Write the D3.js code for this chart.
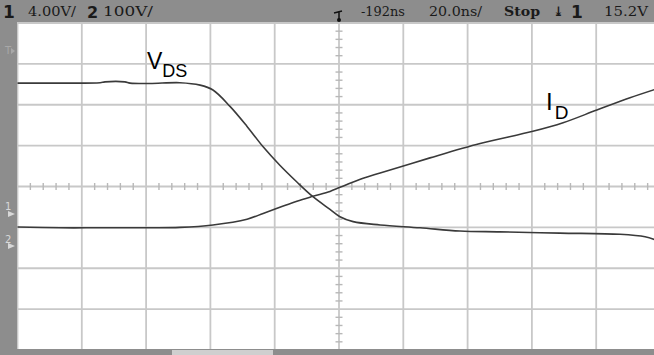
<!DOCTYPE html>
<html>
<head>
<meta charset="utf-8">
<script src="https://cdn.jsdelivr.net/npm/d3@7"></script>
<style>
  body { margin: 0; background: #fff; }
  svg { display: block; }
  .hdr { font-family: "DejaVu Serif", serif; fill: #1a1a1a; }
  .lbl { font-family: "Liberation Sans", Arial, sans-serif; fill: #000; }
</style>
</head>
<body>
<svg width="654" height="355"></svg>
<script>
// time in ns (20 ns/div), value in screen divisions
const vdsTime = [-100, -86.8, -74.3, -72.8, -66.6, -65, -58.8, -49.5, -43.2, -39.2, -33.9, -28.6, -23.6, -18.4, -13.1, -8.1, -2.8, 0.3, 4.4, 12.8, 25.2, 37.6, 50.1, 68.7, 87.4, 95.2, 98.5];
const vdsValue = [2.53, 2.53, 2.54, 2.56, 2.56, 2.53, 2.52, 2.54, 2.48, 2.36, 1.96, 1.47, 0.97, 0.52, 0.11, -0.25, -0.56, -0.74, -0.86, -0.94, -1.01, -1.09, -1.11, -1.14, -1.17, -1.23, -1.31];

const idTime = [-100, -86.8, -74.3, -58.8, -49.5, -39.2, -28.6, -23.6, -18.4, -13.1, -8.1, -2.8, 0.3, 7.5, 12.8, 28.3, 43.9, 60.3, 69.7, 80.2, 90.5, 98.5];
const idValue = [-0.99, -1.01, -1.01, -1.01, -1.0, -0.94, -0.8, -0.66, -0.51, -0.36, -0.24, -0.12, -0.02, 0.2, 0.33, 0.7, 1.05, 1.35, 1.56, 1.87, 2.17, 2.38];

const xDivs = d3.range(-5, 6);
const yDivs = d3.range(-4, 5);

const svg = d3.select("svg");
const width = 654, height = 355;

const x = d3.scaleLinear().domain([-100, 100]).range([17.5, 660.5]);
const y = d3.scaleLinear().domain([-4, 4]).range([350, 23]);

svg.append("rect").attr("width", width).attr("height", height).attr("fill", "#fff");

const grid = svg.append("g");
grid.selectAll(".vl").data(xDivs).enter().append("line")
  .attr("x1", (d) => x(d * 20)).attr("x2", (d) => x(d * 20))
  .attr("y1", 22).attr("y2", 350)
  .attr("stroke", "#c8c8c8").attr("stroke-width", 1.8);
grid.selectAll(".hl").data(yDivs).enter().append("line")
  .attr("x1", 17).attr("x2", width)
  .attr("y1", (d) => y(d)).attr("y2", (d) => y(d))
  .attr("stroke", "#c8c8c8").attr("stroke-width", 1.8);

// minor ticks on centre lines (5 per division)
const minorX = d3.range(-25, 26).filter((d) => d % 5 !== 0).map((d) => d / 5);
const minorY = d3.range(-20, 21).filter((d) => d % 5 !== 0).map((d) => d / 5);
grid.selectAll(".tx").data(minorX).enter().append("line")
  .attr("x1", (d) => x(d * 20)).attr("x2", (d) => x(d * 20))
  .attr("y1", y(0) - 3.5).attr("y2", y(0) + 3.5)
  .attr("stroke", "#b8b8b8").attr("stroke-width", 1.4);
grid.selectAll(".ty").data(minorY).enter().append("line")
  .attr("x1", x(0) - 3.5).attr("x2", x(0) + 3.5)
  .attr("y1", (d) => y(d)).attr("y2", (d) => y(d))
  .attr("stroke", "#b8b8b8").attr("stroke-width", 1.4);

// traces
const line = d3.line().x((d) => x(d[0])).y((d) => y(d[1])).curve(d3.curveCatmullRom.alpha(0.5));
const traces = [
  d3.zip(vdsTime, vdsValue),
  d3.zip(idTime, idValue),
];
svg.selectAll(".trace").data(traces).enter().append("path")
  .attr("d", line)
  .attr("fill", "none")
  .attr("stroke", "#3a3a3a")
  .attr("stroke-width", 1.6);

// labels
const vds = svg.append("text").attr("class", "lbl").attr("x", 147).attr("y", 69);
vds.append("tspan").attr("font-size", 23).text("V");
vds.append("tspan").attr("font-size", 18).attr("dy", 8).text("DS");
const idl = svg.append("text").attr("class", "lbl").attr("x", 546).attr("y", 110);
idl.append("tspan").attr("font-size", 24).text("I");
idl.append("tspan").attr("font-size", 19).attr("dy", 9).attr("dx", 2).text("D");

// bezels
const bezel = "#8d8d8d";
svg.append("rect").attr("x", 0).attr("y", 0).attr("width", width).attr("height", 22).attr("fill", bezel);
svg.append("rect").attr("x", 0).attr("y", 0).attr("width", 17).attr("height", height).attr("fill", bezel);
svg.append("rect").attr("x", 0).attr("y", 349).attr("width", width).attr("height", 6).attr("fill", bezel);
svg.append("rect").attr("x", 172).attr("y", 350).attr("width", 101).attr("height", 5).attr("fill", "#cfcfcf");

// left markers
const mk = svg.append("g").attr("fill", "#d8d8d8").attr("font-family", "DejaVu Sans").attr("font-size", 10);
mk.append("text").attr("x", 5).attr("y", 54).attr("fill", "#a8a8a8").text("T");
mk.append("path").attr("d", "M11,48 L15,51 L11,54 Z").attr("fill", "#a8a8a8");
mk.append("text").attr("x", 5).attr("y", 210).text("1");
mk.append("path").attr("d", "M8,211 L15,214 L8,217 Z");
mk.append("text").attr("x", 5).attr("y", 243).text("2");
mk.append("path").attr("d", "M8,243 L15,246 L8,249 Z");

// header text
const hdr = svg.append("g").attr("class", "hdr");
const ht = (xp, txt, opts) => {
  const t = hdr.append("text").attr("x", xp).attr("y", opts.y || 16)
    .attr("font-size", opts.size || 13).text(txt);
  if (opts.bold) t.attr("font-weight", "bold");
  if (opts.sans) t.attr("font-family", "DejaVu Sans");
  if (opts.len) t.attr("textLength", opts.len).attr("lengthAdjust", "spacingAndGlyphs");
  return t;
};
ht(3, "1", { y: 18, size: 17, bold: true, sans: true });
ht(28, "4.00V/", { len: 48 });
ht(87, "2", { y: 18, size: 16, bold: true, sans: true });
ht(103, "100V/", { len: 50 });
hdr.append("path").attr("d", "M334,13 L342,11 M339,11 L339,19").attr("stroke", "#111").attr("stroke-width", 1.5).attr("fill", "none");
hdr.append("circle").attr("cx", 339).attr("cy", 20).attr("r", 2).attr("fill", "#111");
ht(361, "-192ns", { len: 44 });
ht(429, "20.0ns/", { len: 53 });
ht(504, "Stop", { bold: true, len: 36 });
ht(553, "\u2913", { bold: true });
ht(571, "1", { y: 18, size: 17, bold: true, sans: true });
ht(604, "15.2V", { len: 44 });
</script>
</body>
</html>
